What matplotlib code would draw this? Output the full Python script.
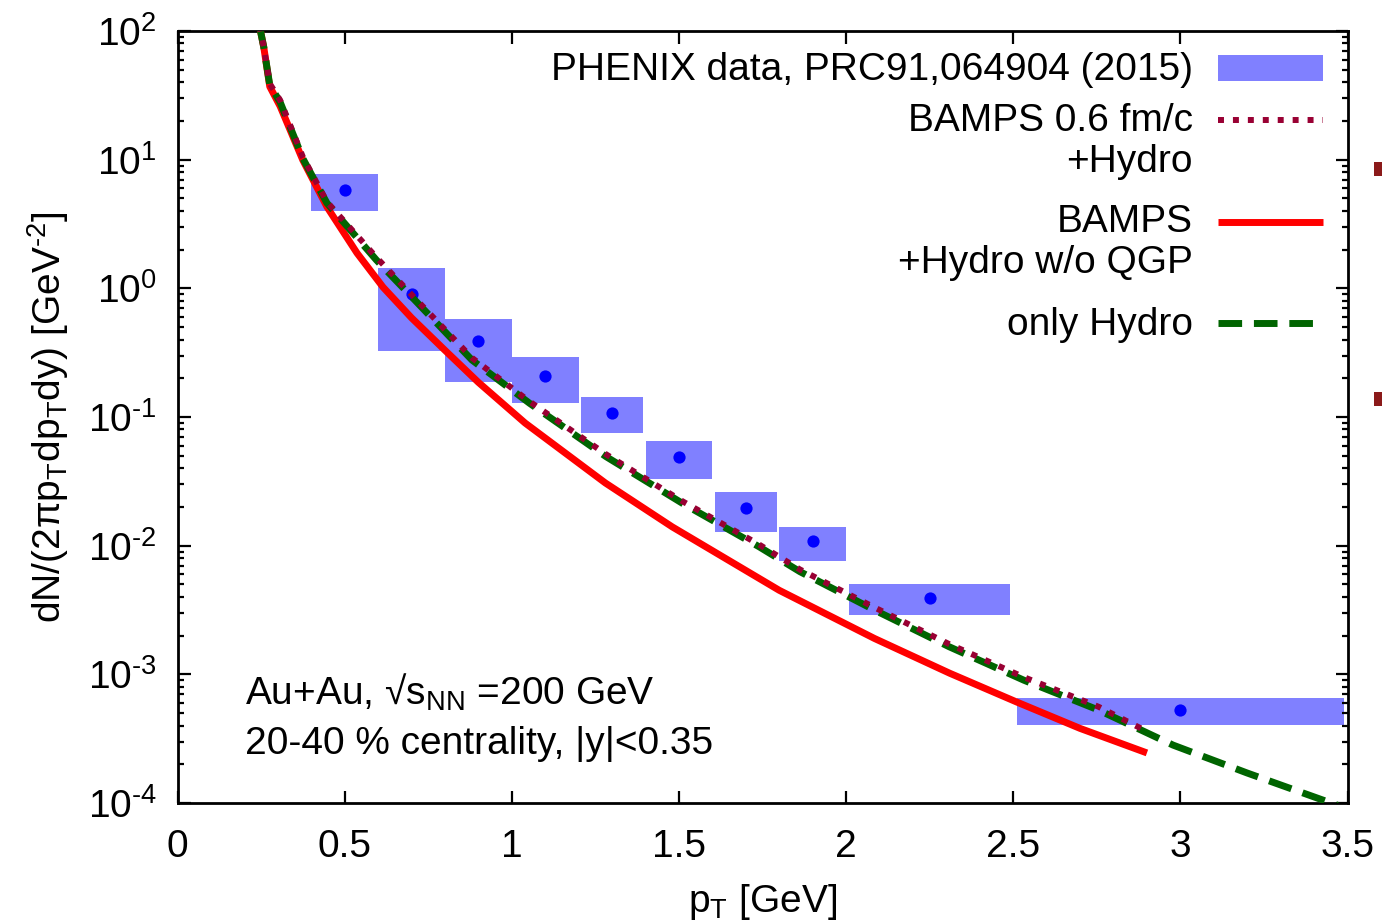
import matplotlib
matplotlib.use("Agg")
import matplotlib.pyplot as plt
from matplotlib.patches import Rectangle
from matplotlib.ticker import LogLocator, NullFormatter, FixedLocator

plt.rcParams['font.family'] = ['Liberation Sans', 'DejaVu Sans']
plt.rcParams['mathtext.fontset'] = 'custom'
plt.rcParams['mathtext.rm'] = 'Liberation Sans'
plt.rcParams['mathtext.it'] = 'Liberation Sans:italic'

# PHENIX data points with systematic boxes
pt_data = [0.5, 0.7, 0.9, 1.1, 1.3, 1.5, 1.7, 1.9, 2.25, 3.0]
yield_data = [5.8, 0.90, 0.39, 0.208, 0.107, 0.0489, 0.0196, 0.0109, 0.00392, 5.3e-4]
box_low = [3.99, 0.326, 0.187, 0.129, 0.0752, 0.033, 0.0128, 0.0076, 0.00289, 4.04e-4]
box_high = [7.74, 1.44, 0.578, 0.292, 0.143, 0.0652, 0.0261, 0.0140, 0.00504, 6.55e-4]
box_halfwidth = [0.1, 0.1, 0.1, 0.1, 0.093, 0.1, 0.093, 0.1, 0.24, 0.49]

# BAMPS + hydro without QGP
pt_noqgp = [0.245, 0.258, 0.276, 0.307, 0.375, 0.447, 0.537, 0.615, 0.70, 0.80, 0.90,
            1.04, 1.28, 1.48, 1.80, 2.085, 2.31, 2.51, 2.70, 2.90]
y_noqgp = [110, 75, 37, 26, 9.9, 4.3, 1.88, 1.02, 0.59, 0.33, 0.186,
           0.0897, 0.0307, 0.0140, 4.5e-3, 1.9e-3, 1.02e-3, 6.1e-4, 3.8e-4, 2.45e-4]

# only hydro
pt_hydro = [0.245, 0.258, 0.276, 0.307, 0.375, 0.447, 0.595, 0.71, 0.881, 1.053, 1.282,
            1.511, 1.74, 1.862, 2.085, 2.308, 2.532, 2.755, 2.978, 3.2, 3.47]
y_hydro = [110, 75, 38, 28, 10.2, 4.6, 1.66, 0.81, 0.277, 0.128, 0.0492,
           0.0213, 9.8e-3, 6.28e-3, 3.16e-3, 1.64e-3, 9.0e-4, 5.28e-4, 2.82e-4, 1.71e-4, 9.6e-5]

# BAMPS 0.6 fm/c + hydro
pt_bamps = [0.245, 0.258, 0.276, 0.307, 0.375, 0.447, 0.595, 0.71, 0.881, 1.053, 1.282,
            1.511, 1.74, 1.862, 2.085, 2.308, 2.532, 2.755, 2.90]
y_bamps = [110, 75, 39, 29, 10.5, 4.7, 1.74, 0.84, 0.288, 0.132, 0.0513,
           0.0221, 0.0102, 6.53e-3, 3.31e-3, 1.72e-3, 9.5e-4, 5.6e-4, 3.6e-4]

x_ticks = [0, 0.5, 1, 1.5, 2, 2.5, 3, 3.5]
x_tick_labels = ['0', '0.5', '1', '1.5', '2', '2.5', '3', '3.5']
y_exponents = [-4, -3, -2, -1, 0, 1, 2]

BOX_COLOR = '#8080ff'
POINT_COLOR = '#0000ff'
RED = '#ff0000'
GREEN = '#006400'
MAROON = '#990033'

W, H = 1382, 923
fig = plt.figure(figsize=(W / 100, H / 100), dpi=100)
ax = fig.add_axes([177.5 / W, 1 - 803 / H, 1170 / W, 772 / H])
ax.set_yscale('log')
ax.set_xlim(0, 3.5)
ax.set_ylim(1e-4, 1e2)

# systematic boxes
widths = [2 * h for h in box_halfwidth]
heights = [hi - lo for lo, hi in zip(box_low, box_high)]
ax.bar(pt_data, heights, bottom=box_low, width=widths, color=BOX_COLOR,
       edgecolor='none', zorder=1)
ax.plot(pt_data, yield_data, 'o', color=POINT_COLOR, markersize=8.8,
        markeredgewidth=0, zorder=2)

ax.plot(pt_noqgp, y_noqgp, '-', color=RED, lw=5, solid_capstyle='butt',
        solid_joinstyle='round', zorder=3)
ax.plot(pt_hydro, y_hydro, color=GREEN, lw=5, dashes=(3.4, 1.7),
        dash_capstyle='butt', zorder=4)
ax.plot(pt_bamps, y_bamps, color=MAROON, lw=4.3, dashes=(1, 1.5),
        dash_capstyle='butt', zorder=5)


def sup_label(e):
    sign = r'\text{-}' if e < 0 else ''
    return r'$\mathregular{10^{%s%d}}$' % (sign, abs(e))


# axes styling
for s in ax.spines.values():
    s.set_linewidth(2)
ax.xaxis.set_major_locator(FixedLocator(x_ticks))
ax.set_xticklabels(x_tick_labels)
ax.set_yticks([10.0 ** e for e in y_exponents])
ax.set_yticklabels([sup_label(e) for e in y_exponents])
ax.yaxis.set_minor_locator(LogLocator(base=10, subs=range(2, 10), numticks=20))
ax.yaxis.set_minor_formatter(NullFormatter())
ax.tick_params(which='major', direction='in', length=9, width=1.6,
               top=True, right=True, labelsize=28)
ax.tick_params(which='minor', direction='in', length=4.5, width=1.6,
               top=True, right=True)
ax.tick_params(axis='x', which='major', pad=19)
ax.tick_params(axis='y', which='major', pad=15)

ax.set_xlabel(r'p$_\mathregular{T}$ [GeV]', fontsize=28, labelpad=12)
ax.set_ylabel(r'dN/(2πp$_\mathregular{T}$dp$_\mathregular{T}$dy) [GeV$^{\text{-}\mathregular{2}}$]',
              fontsize=28, labelpad=12)

# legend drawn in axes coordinates
tx = 0.868
hx0, hx1 = 0.8893, 0.9791
fs = 28
ax.text(tx, 0.950, 'PHENIX data, PRC91,064904 (2015)', transform=ax.transAxes,
        ha='right', va='center', fontsize=fs)
ax.add_patch(Rectangle((hx0, 0.952 - 0.0165), hx1 - hx0, 0.033, transform=ax.transAxes,
                       color=BOX_COLOR, lw=0, clip_on=False))
ax.text(tx, 0.883, 'BAMPS 0.6 fm/c', transform=ax.transAxes, ha='right', va='center', fontsize=fs)
ax.text(tx, 0.830, '+Hydro', transform=ax.transAxes, ha='right', va='center', fontsize=fs)
ax.plot([hx0, hx1], [0.8847, 0.8847], transform=ax.transAxes, color=MAROON, lw=4.3,
        dashes=(1, 1.5), dash_capstyle='butt', clip_on=False)
ax.text(tx, 0.752, 'BAMPS', transform=ax.transAxes, ha='right', va='center', fontsize=fs)
ax.text(tx, 0.700, '+Hydro w/o QGP', transform=ax.transAxes, ha='right', va='center', fontsize=fs)
ax.plot([hx0, hx1], [0.753, 0.753], transform=ax.transAxes, color=RED, lw=5,
        solid_capstyle='butt', clip_on=False)
ax.text(tx, 0.619, 'only Hydro', transform=ax.transAxes, ha='right', va='center', fontsize=fs)
ax.plot([hx0, hx0 + 0.088], [0.6218, 0.6218], transform=ax.transAxes, color=GREEN, lw=5,
        dashes=(3.4, 1.7), dash_capstyle='butt', clip_on=False)

# collision system
ax.text(0.0577, 0.1438, r'Au+Au, √s$_\mathregular{NN}$ =200 GeV', transform=ax.transAxes,
        ha='left', va='center', fontsize=28)
ax.text(0.0577, 0.0764, '20-40 % centrality, |y|<0.35', transform=ax.transAxes,
        ha='left', va='center', fontsize=28)

# small markers at the right edge of the canvas
for yc in (169, 399):
    fig.patches.append(Rectangle((1374 / W, 1 - (yc + 7) / H), 10 / W, 14 / H,
                                 transform=fig.transFigure, color='#8b1a1a', lw=0))

fig.savefig('out.png', dpi=100)
